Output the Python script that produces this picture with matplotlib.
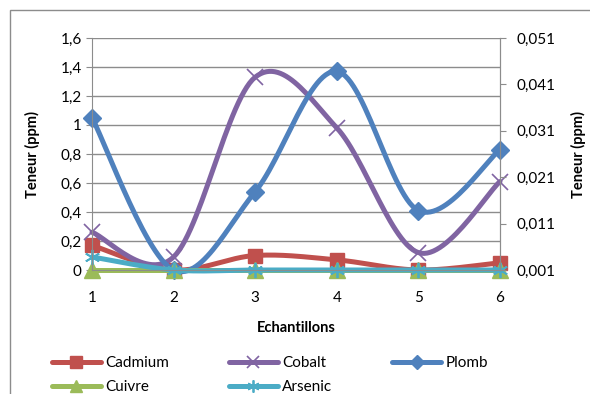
import matplotlib.pyplot as plt
import numpy as np
from matplotlib.patches import Rectangle

plt.rcParams['font.family'] = ['Lato', 'DejaVu Sans']

# Données
echantillons = [1, 2, 3, 4, 5, 6]
cadmium = [0.17, 0.0, 0.10, 0.07, 0.0, 0.05]
cobalt = [0.26, 0.09, 1.33, 0.98, 0.12, 0.61]
plomb = [1.05, 0.0, 0.54, 1.37, 0.41, 0.83]
cuivre = [0.0, 0.0, 0.0, 0.0, 0.0, 0.0]
arsenic = [0.09, 0.0, 0.0, 0.0, 0.0, 0.0]
ticks_droite = [0.001, 0.011, 0.021, 0.031, 0.041, 0.051]


def lisser(x, y, n=30):
    # courbe lissée façon Excel (Catmull-Rom)
    x = np.asarray(x, float)
    y = np.asarray(y, float)
    px = np.concatenate([[x[0]], x, [x[-1]]])
    py = np.concatenate([[y[0]], y, [y[-1]]])
    xs, ys = [], []
    for i in range(1, len(px) - 2):
        t = np.linspace(0, 1, n)
        p0x, p1x, p2x, p3x = px[i - 1], px[i], px[i + 1], px[i + 2]
        p0y, p1y, p2y, p3y = py[i - 1], py[i], py[i + 1], py[i + 2]
        c1x, c1y = p1x + (p2x - p0x) / 6, p1y + (p2y - p0y) / 6
        c2x, c2y = p2x - (p3x - p1x) / 6, p2y - (p3y - p1y) / 6
        bx = (1 - t) ** 3 * p1x + 3 * (1 - t) ** 2 * t * c1x + 3 * (1 - t) * t ** 2 * c2x + t ** 3 * p2x
        by = (1 - t) ** 3 * p1y + 3 * (1 - t) ** 2 * t * c1y + 3 * (1 - t) * t ** 2 * c2y + t ** 3 * p2y
        xs.extend(bx)
        ys.extend(by)
    return np.array(xs), np.array(ys)


fig = plt.figure(figsize=(5.9, 3.94), dpi=100)
fig.patches.append(Rectangle((10 / 590, -0.01), 0.99, 1 - 10 / 394 + 0.01,
                             transform=fig.transFigure, fill=False,
                             edgecolor='#8c8c8c', linewidth=1))
ax = fig.add_axes([92 / 590, 1 - 270 / 394, 408 / 590, 232 / 394])

series = [
    ('Cadmium', cadmium, '#C0504D', 's', 10, 1),
    ('Cobalt', cobalt, '#8064A2', 'x', 11, 1.2),
    ('Plomb', plomb, '#4F81BD', 'D', 9, 1),
    ('Cuivre', cuivre, '#9BBB59', '^', 11, 1),
    ('Arsenic', arsenic, '#4BACC6', (6, 2, 0), 11, 1.3),
]
handles = {}
for nom, val, coul, mk, ms, mew in series:
    sx, sy = lisser(echantillons, val)
    ax.plot(sx, sy, color=coul, linewidth=3.6, solid_capstyle='round', clip_on=False)
    ax.plot(echantillons, val, linestyle='none', marker=mk, markersize=ms,
            color=coul, markeredgewidth=mew, clip_on=False)
    h, = ax.plot([], [], color=coul, linewidth=3.6, marker=mk, markersize=ms * 0.8,
                 markeredgewidth=mew, solid_capstyle='round')
    handles[nom] = h

ax.set_xlim(1, 6)
ax.set_ylim(0, 1.6)
ax.set_xticks(echantillons)
ax.set_yticks(np.arange(0, 1.61, 0.2))
ax.set_yticklabels(['0', '0,2', '0,4', '0,6', '0,8', '1', '1,2', '1,4', '1,6'])
ax.grid(axis='y', color='#8c8c8c', linewidth=1)
ax.set_axisbelow(True)
ax.spines['top'].set_visible(False)
for s in ['left', 'bottom', 'right']:
    ax.spines[s].set_color('#8c8c8c')
ax.tick_params(axis='both', colors='#8c8c8c', labelcolor='black', labelsize=11, length=4)
ax.tick_params(axis='x', pad=11)
ax.set_xlabel('Echantillons', fontsize=10.5, fontweight='bold', labelpad=12)
ax.set_ylabel('Teneur (ppm)', fontsize=10.5, fontweight='bold', labelpad=15)

ax2 = ax.twinx()
ax2.set_ylim(0.001, 0.051)
ax2.set_yticks(ticks_droite)
ax2.set_yticklabels([str(v).replace('.', ',') for v in ticks_droite])
for s in ['top', 'left', 'bottom']:
    ax2.spines[s].set_visible(False)
ax2.spines['right'].set_color('#8c8c8c')
ax2.tick_params(axis='y', colors='#8c8c8c', labelcolor='black', labelsize=11, length=4, pad=8)
ax2.set_ylabel('Teneur (ppm)', fontsize=10.5, fontweight='bold', labelpad=11)

ordre = ['Cadmium', 'Cuivre', 'Cobalt', 'Arsenic', 'Plomb']
fig.legend([handles[n] for n in ordre], ordre, ncol=3, loc='upper left',
           bbox_to_anchor=(52 / 590, 1 - 356 / 394), frameon=False, fontsize=11,
           handlelength=3.2, handletextpad=0.3, columnspacing=3.9, labelspacing=0.65,
           borderaxespad=0, borderpad=0)

plt.savefig('out.png', dpi=100)
